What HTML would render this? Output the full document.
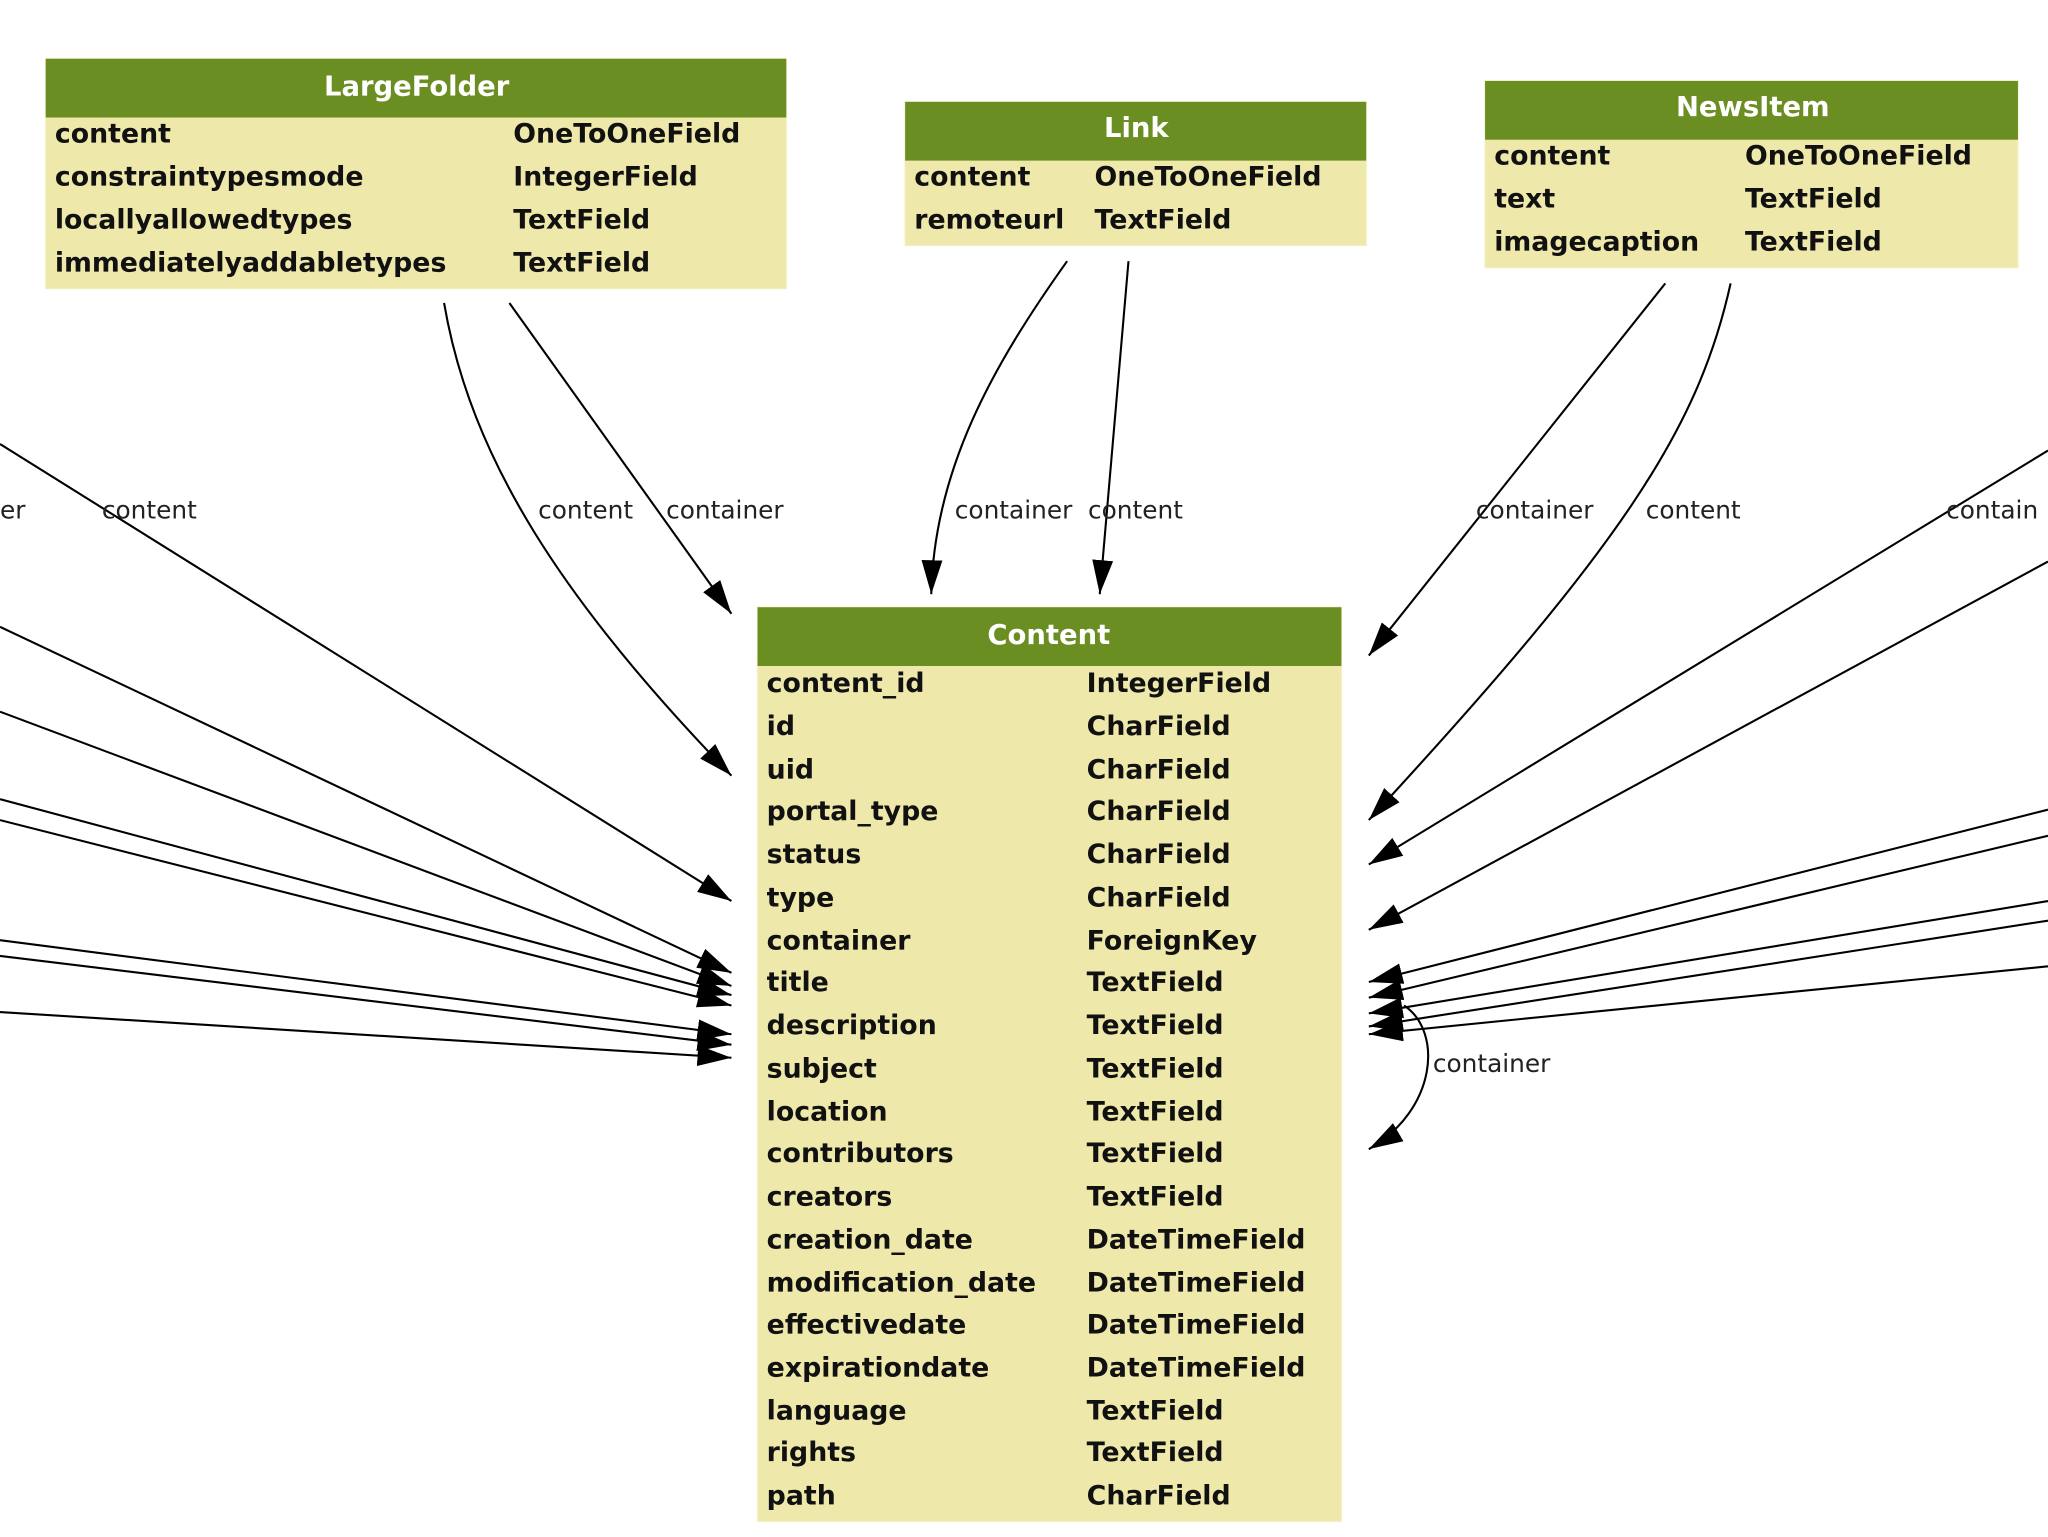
<!DOCTYPE html>
<html><head><meta charset="utf-8"><style>
html,body{margin:0;padding:0;background:#fff;}
svg{display:block;}
.f{font-family:"DejaVu Sans","Liberation Sans",sans-serif;font-weight:bold;font-size:20.5px;fill:#111;}
.h{font-family:"DejaVu Sans","Liberation Sans",sans-serif;font-weight:bold;font-size:21px;fill:#fff;}
.l{font-family:"DejaVu Sans","Liberation Sans",sans-serif;font-size:19px;fill:#222;}
.e{fill:none;stroke:#000;stroke-width:1.6;}
</style></head><body>
<svg width="2048" height="1537" viewBox="0 0 1568 1177" preserveAspectRatio="none" xmlns="http://www.w3.org/2000/svg">
<defs>
<marker id="a" markerUnits="userSpaceOnUse" markerWidth="28" markerHeight="18" refX="26" refY="9" orient="auto">
<path d="M0,1 L26,9 L0,17 Z" fill="#000"/>
</marker>
</defs>

<!-- edges -->
<g class="e" marker-end="url(#a)">
<path d="M340,232 C360,350 430,460 560,594"/>
<path d="M390,232 L560,470"/>
<path d="M817,200 C760,280 715,360 713,455"/>
<path d="M864,200 L842,455"/>
<path d="M1275,217 L1048,502"/>
<path d="M1325,217 C1300,330 1240,420 1048,628"/>
<path d="M1568,345 L1048,662"/>
<path d="M1568,430 L1048,712"/>
<path d="M1568,620 L1048,752"/>
<path d="M1568,640 L1048,764"/>
<path d="M1568,690 L1048,776"/>
<path d="M1568,705 L1048,786"/>
<path d="M1568,740 L1048,792"/>
<path d="M1075,770 C1105,790 1100,850 1048,880"/>
<path d="M0,340 L560,690"/>
<path d="M0,480 L560,745"/>
<path d="M0,545 L560,755"/>
<path d="M0,612 L560,762"/>
<path d="M0,628 L560,770"/>
<path d="M0,720 L560,792"/>
<path d="M0,732 L560,800"/>
<path d="M0,775 L560,810"/>
</g>

<!-- edge labels -->
<text class="l" x="0" y="397">er</text>
<text class="l" x="78" y="397">content</text>
<text class="l" x="412" y="397">content</text>
<text class="l" x="510" y="397">container</text>
<text class="l" x="731" y="397">container</text>
<text class="l" x="833" y="397">content</text>
<text class="l" x="1130" y="397">container</text>
<text class="l" x="1260" y="397">content</text>
<text class="l" x="1490" y="397">contain</text>
<text class="l" x="1097" y="821">container</text>

<!-- LargeFolder -->
<rect x="35" y="45" width="567" height="176" fill="#eee8aa" stroke="#f4efc0"/>
<rect x="35" y="45" width="567" height="45" fill="#6b8e23"/>
<text class="h" x="319" y="73" text-anchor="middle">LargeFolder</text>
<text class="f" x="42" y="109">content</text><text class="f" x="393" y="109">OneToOneField</text>
<text class="f" x="42" y="142">constraintypesmode</text><text class="f" x="393" y="142">IntegerField</text>
<text class="f" x="42" y="175">locallyallowedtypes</text><text class="f" x="393" y="175">TextField</text>
<text class="f" x="42" y="208">immediatelyaddabletypes</text><text class="f" x="393" y="208">TextField</text>

<!-- Link -->
<rect x="693" y="78" width="353" height="110" fill="#eee8aa" stroke="#f4efc0"/>
<rect x="693" y="78" width="353" height="45" fill="#6b8e23"/>
<text class="h" x="870" y="105" text-anchor="middle">Link</text>
<text class="f" x="700" y="142">content</text><text class="f" x="838" y="142">OneToOneField</text>
<text class="f" x="700" y="175">remoteurl</text><text class="f" x="838" y="175">TextField</text>

<!-- NewsItem -->
<rect x="1137" y="62" width="408" height="143" fill="#eee8aa" stroke="#f4efc0"/>
<rect x="1137" y="62" width="408" height="45" fill="#6b8e23"/>
<text class="h" x="1342" y="89" text-anchor="middle">NewsItem</text>
<text class="f" x="1144" y="126">content</text><text class="f" x="1336" y="126">OneToOneField</text>
<text class="f" x="1144" y="159">text</text><text class="f" x="1336" y="159">TextField</text>
<text class="f" x="1144" y="192">imagecaption</text><text class="f" x="1336" y="192">TextField</text>

<!-- Content -->
<rect x="580" y="465" width="447" height="700" fill="#eee8aa" stroke="#f4efc0"/>
<rect x="580" y="465" width="447" height="45" fill="#6b8e23"/>
<text class="h" x="803" y="493" text-anchor="middle">Content</text>
<g>
<text class="f" x="587" y="530">content_id</text><text class="f" x="832" y="530">IntegerField</text>
<text class="f" x="587" y="563">id</text><text class="f" x="832" y="563">CharField</text>
<text class="f" x="587" y="596">uid</text><text class="f" x="832" y="596">CharField</text>
<text class="f" x="587" y="628">portal_type</text><text class="f" x="832" y="628">CharField</text>
<text class="f" x="587" y="661">status</text><text class="f" x="832" y="661">CharField</text>
<text class="f" x="587" y="694">type</text><text class="f" x="832" y="694">CharField</text>
<text class="f" x="587" y="727">container</text><text class="f" x="832" y="727">ForeignKey</text>
<text class="f" x="587" y="759">title</text><text class="f" x="832" y="759">TextField</text>
<text class="f" x="587" y="792">description</text><text class="f" x="832" y="792">TextField</text>
<text class="f" x="587" y="825">subject</text><text class="f" x="832" y="825">TextField</text>
<text class="f" x="587" y="858">location</text><text class="f" x="832" y="858">TextField</text>
<text class="f" x="587" y="890">contributors</text><text class="f" x="832" y="890">TextField</text>
<text class="f" x="587" y="923">creators</text><text class="f" x="832" y="923">TextField</text>
<text class="f" x="587" y="956">creation_date</text><text class="f" x="832" y="956">DateTimeField</text>
<text class="f" x="587" y="989">modification_date</text><text class="f" x="832" y="989">DateTimeField</text>
<text class="f" x="587" y="1021">effectivedate</text><text class="f" x="832" y="1021">DateTimeField</text>
<text class="f" x="587" y="1054">expirationdate</text><text class="f" x="832" y="1054">DateTimeField</text>
<text class="f" x="587" y="1087">language</text><text class="f" x="832" y="1087">TextField</text>
<text class="f" x="587" y="1119">rights</text><text class="f" x="832" y="1119">TextField</text>
<text class="f" x="587" y="1152">path</text><text class="f" x="832" y="1152">CharField</text>
</g>
</svg>
</body></html>
